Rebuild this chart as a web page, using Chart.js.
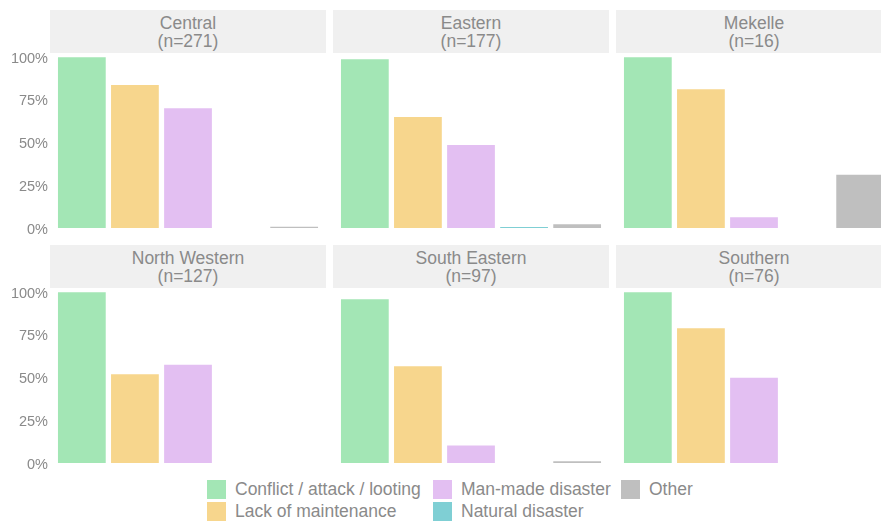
<!DOCTYPE html>
<html>
<head>
<meta charset="utf-8">
<script src="https://cdn.jsdelivr.net/npm/chart.js@4"></script>
<style>
  html, body { margin: 0; padding: 0; background: #fff; overflow: hidden; }
  body { width: 881px; height: 522px; position: relative; font-family: "Liberation Sans", Arial, sans-serif; }
  .strip { position: absolute; background: #f0f0f0; color: #8a8a8a; font-size: 17.5px; line-height: 18.5px; text-align: center; box-sizing: border-box; padding-top: 3.5px; }
  canvas { position: absolute; }
  .legend { position: absolute; color: #8a8a8a; font-size: 17.5px; }
  .key { position: absolute; width: 19px; height: 19px; }
  .lab { position: absolute; white-space: nowrap; line-height: 19px; }
</style>
</head>
<body>
<script>
// panels (facets)
const regions = ['Central', 'Eastern', 'Mekelle', 'North Western', 'South Eastern', 'Southern'];
const counts = [271, 177, 16, 127, 97, 76];

// causes
const categories = ['Conflict / attack / looting', 'Lack of maintenance', 'Man-made disaster', 'Natural disaster', 'Other'];
const colors = ['#a3e6b5', '#f7d68d', '#e3bff2', '#7fcfd4', '#bfbfbf'];

// share of sites per region, one array per cause
const conflict    = [1.0,   0.989,  1.0,    1.0,   0.959,  1.0];
const maintenance = [0.838, 0.650,  0.8125, 0.520, 0.567,  0.789];
const manMade     = [0.701, 0.486,  0.0625, 0.575, 0.103,  0.5];
const natural     = [0,     0.0056, 0,      0,     0,      0];
const other       = [0.0074, 0.0226, 0.3125, 0,    0.0103, 0];

const tickValues = [0, 0.25, 0.5, 0.75, 1];
const tickLabels = ['0%', '25%', '50%', '75%', '100%'];

const series = [conflict, maintenance, manMade, natural, other];

const colX = [50, 333, 616];
const rowY = [10, 245];
const panelW = 276, stripH = 43, plotH = 175, padB = 12;

regions.forEach(function(region, i) {
    let col = i % 3, row = Math.floor(i / 3);
    let first = col === 0;

    let strip = document.createElement('div');
    strip.className = 'strip';
    strip.style.left = colX[col] + 'px';
    strip.style.top = rowY[row] + 'px';
    strip.style.width = panelW + 'px';
    strip.style.height = stripH + 'px';
    strip.innerHTML = region + '<br>(n=' + counts[i] + ')';
    document.body.appendChild(strip);

    let canvas = document.createElement('canvas');
    let left = first ? 0 : colX[col];
    let w = first ? colX[col] + panelW : panelW;
    let h = stripH + plotH + padB;
    canvas.width = w;
    canvas.height = h;
    canvas.style.left = left + 'px';
    canvas.style.top = rowY[row] + 'px';
    document.body.appendChild(canvas);

    let datasets = categories.map(function(cat, k) {
        return {
            label: cat,
            data: [{ x: k + 1, y: series[k][i] }],
            backgroundColor: colors[k],
            borderWidth: 0,
            barPercentage: 0.9,
            categoryPercentage: 1
        };
    });

    new Chart(canvas.getContext('2d'), {
        type: 'bar',
        data: { datasets: datasets },
        options: {
            responsive: false,
            animation: false,
            layout: { padding: { top: stripH, bottom: padB, left: 0, right: 0 } },
            plugins: { legend: { display: false }, tooltip: { enabled: false } },
            scales: {
                x: {
                    type: 'linear', min: 0.4, max: 5.6, stacked: true,
                    offset: false,
                    display: false,
                    grid: { offset: false },
                    afterBuildTicks: function(scale) {
                        scale.ticks = [1, 2, 3, 4, 5].map(function(v) { return { value: v }; });
                    }
                },
                y: {
                    type: 'linear', min: 0, max: 1.025,
                    display: first,
                    grid: { display: false, drawTicks: false },
                    border: { display: false },
                    afterFit: function(scale) { scale.width = first ? colX[0] : 0; },
                    afterBuildTicks: function(scale) {
                        scale.ticks = tickValues.map(function(v) { return { value: v }; });
                    },
                    ticks: {
                        padding: 2,
                        labelOffset: 1.5,
                        color: '#8a8a8a',
                        font: { family: '"Liberation Sans", Arial, sans-serif', size: 14.5 },
                        callback: function(v) {
                            let idx = tickValues.indexOf(v);
                            return idx >= 0 ? tickLabels[idx] : '';
                        }
                    }
                }
            }
        }
    });
});

// legend, filled column by column like the original
const legendCols = [[0, 1], [2, 3], [4]];
const keyX = [207, 433, 621];
const keyY = [480, 502];
let legend = document.createElement('div');
legend.className = 'legend';
legendCols.forEach(function(items, c) {
    items.forEach(function(k, r) {
        let key = document.createElement('div');
        key.className = 'key';
        key.style.left = keyX[c] + 'px';
        key.style.top = keyY[r] + 'px';
        key.style.background = colors[k];
        legend.appendChild(key);
        let lab = document.createElement('div');
        lab.className = 'lab';
        lab.style.left = (keyX[c] + 28) + 'px';
        lab.style.top = keyY[r] + 'px';
        lab.textContent = categories[k];
        legend.appendChild(lab);
    });
});
document.body.appendChild(legend);
</script>
</body>
</html>
